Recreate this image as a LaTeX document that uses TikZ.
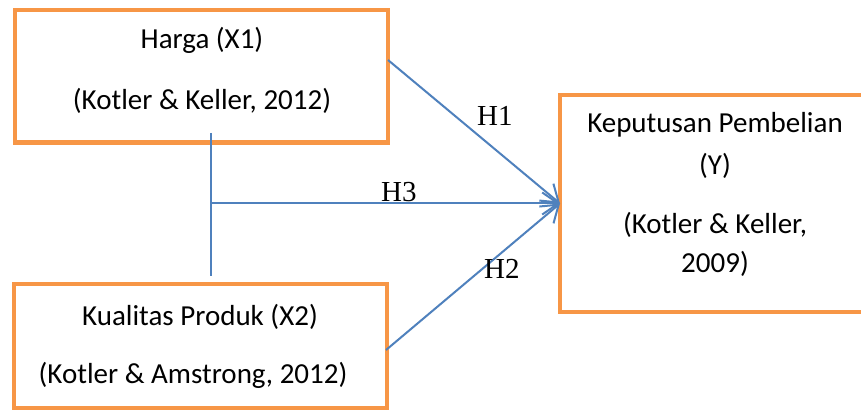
\documentclass[tikz,border=0pt]{standalone}
\usepackage{fontspec}
\setmainfont{Carlito}
\newfontfamily\hfont{Liberation Serif}
\usetikzlibrary{arrows.meta}
\definecolor{boxorange}{HTML}{F79646}
\definecolor{linkblue}{HTML}{4F81BD}
\tikzset{
  varbox/.style={draw=boxorange, line width=4.5pt, rectangle, inner sep=0pt, outer sep=0pt, fill=white},
  txt/.style={anchor=base, inner sep=0pt, font=\fontsize{29}{35}\selectfont},
  hlab/.style={anchor=base west, inner sep=0pt, font=\hfont\fontsize{29}{35}\selectfont},
  link/.style={draw=linkblue, line width=2pt},
  arr/.style={link, -{Straight Barb[length=16pt,width=22pt,line width=2pt]}}
}
\begin{document}
\begin{tikzpicture}[x=1pt,y=1pt]
\useasboundingbox (0,0) rectangle (861,410);
\fill[white] (0,0) rectangle (861,410);
% boxes
\node[varbox, minimum width=373pt, minimum height=132.5pt] (b1) at (201.5,333.75) {};
\node[varbox, minimum width=373pt, minimum height=124pt] (b2) at (200.5,64) {};
\node[varbox, minimum width=320pt, minimum height=217pt] (b3) at (720,206.5) {};
% texts
\node[txt] (t11) at (202,361) {Harga (X1)};
\node[txt] (t12) at (202,300) {(Kotler \& Keller, 2012)};
\node[txt] (t21) at (200,85) {Kualitas Produk (X2)};
\node[txt] (t22) at (193,27) {(Kotler \& Amstrong, 2012)};
\node[txt] (t31) at (715,277) {Keputusan Pembelian};
\node[txt] (t32) at (715,235) {(Y)};
\node[txt] (t33) at (715,177) {(Kotler \& Keller,};
\node[txt] (t34) at (715,138) {2009)};
% connectors
\coordinate (h1s) at (388,350);
\coordinate (h2s) at (386,60);
\coordinate (vt) at (211,277);
\coordinate (vb) at (211,134);
\coordinate (jn) at (211,206.5);
\draw[link] (vt) -- (vb);
\draw[arr] (h1s) -- (b3.west);
\draw[arr] (h2s) -- (b3.west);
\draw[arr] (jn) -- (b3.west);
% labels
\node[hlab] (l1) at (477,284) {H1};
\node[hlab] (l3) at (381,208) {H3};
\node[hlab] (l2) at (484,132) {H2};
\end{tikzpicture}
\end{document}
